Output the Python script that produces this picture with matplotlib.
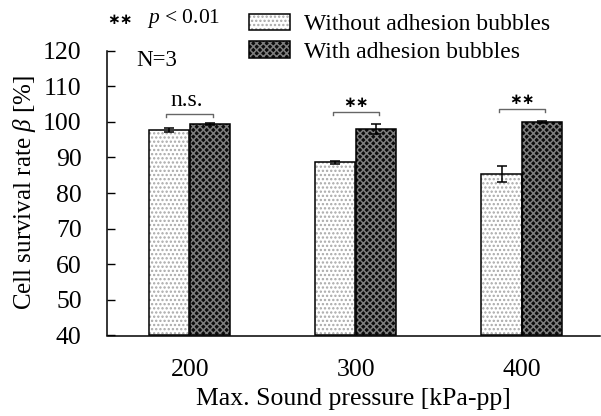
import matplotlib
matplotlib.use("Agg")
import matplotlib.pyplot as plt
import numpy as np
from matplotlib.patches import Patch
from matplotlib.legend_handler import HandlerTuple

plt.rcParams['font.family'] = ['Liberation Serif', 'DejaVu Serif']
plt.rcParams['mathtext.fontset'] = 'custom'
plt.rcParams['mathtext.it'] = 'Liberation Serif:italic'
plt.rcParams['mathtext.rm'] = 'Liberation Serif'
plt.rcParams['hatch.linewidth'] = 1.1

categories = ['200', '300', '400']
without_vals = [97.8, 88.6, 85.4]
without_err = [0.5, 0.5, 2.3]
with_vals = [99.3, 98.1, 100.0]
with_err = [0.3, 1.4, 0.2]
sig_labels = ['n.s.', '**', '**']
bracket_y = [102.2, 102.7, 103.6]
legend_labels = ['Without adhesion bubbles', 'With adhesion bubbles']

fig = plt.figure(figsize=(6.01, 4.16), dpi=100)
ax = fig.add_axes([106.7/601, 1-335.5/416, (600-106.7)/601, (335.5-50.7)/416])

x = np.arange(len(categories))
w = 0.241
off = 0.123

light_face = 'white'
light_hatch = '#a8a8a8'
light_hp = '....'
dark_face = '#0c0c0c'
dark_hatch = '#7e7e7e'
dark_hp = 'xxxxx'

# hatched fills
ax.bar(x - off, np.array(without_vals) - 40, w, bottom=40, color=light_face,
       edgecolor=light_hatch, hatch=light_hp, linewidth=0, zorder=2)
ax.bar(x + off, np.array(with_vals) - 40, w, bottom=40, color=dark_face,
       edgecolor=dark_hatch, hatch=dark_hp, linewidth=0, zorder=2)
# outlines
ax.bar(x - off, np.array(without_vals) - 40, w, bottom=40, fill=False,
       edgecolor='black', linewidth=1.1, zorder=3)
ax.bar(x + off, np.array(with_vals) - 40, w, bottom=40, fill=False,
       edgecolor='black', linewidth=1.1, zorder=3)
# error bars
ax.errorbar(x - off, without_vals, yerr=without_err, fmt='none', ecolor='black',
            elinewidth=1.1, capsize=3.5, capthick=1.1, zorder=4)
ax.errorbar(x + off, with_vals, yerr=with_err, fmt='none', ecolor='black',
            elinewidth=1.1, capsize=3.5, capthick=1.1, zorder=4)

# significance brackets
hw = 0.14
for xi, lab, by in zip(x, sig_labels, bracket_y):
    ax.plot([xi - hw, xi - hw, xi + hw, xi + hw], [by - 0.9, by, by, by - 0.9],
            color='#666666', lw=1.0, clip_on=False, zorder=5)
    if lab == 'n.s.':
        ax.text(xi - 0.02, by + 0.9, lab, ha='center', va='bottom', fontsize=17)
    else:
        ax.text(xi, by + 0.6, '∗∗', ha='center', va='bottom', fontsize=11,
                family=['DejaVu Sans'], fontweight='bold')

ax.set_xlim(-0.5, 2.47)
ax.set_ylim(40, 120)
ax.set_yticks(np.arange(40, 121, 10))
ax.set_xticks(x)
ax.set_xticklabels(categories)
ax.tick_params(axis='y', direction='in', length=6, width=1, pad=18, labelsize=18.5)
ax.tick_params(axis='x', length=0, pad=17, labelsize=18.5)
for s in ['top', 'right']:
    ax.spines[s].set_visible(False)
for s in ['left', 'bottom']:
    ax.spines[s].set_linewidth(1.1)

ax.set_ylabel(r'Cell survival rate $\it{\beta}$ [%]', fontsize=18)
ax.yaxis.set_label_coords(-0.14, 0.5)
ax.set_xlabel('Max. Sound pressure [kPa-pp]', fontsize=18.5, labelpad=5)

# annotations
fig.text(107/601, 1-19/416, '∗∗', fontsize=11, va='center', ha='left',
         family=['DejaVu Sans'], fontweight='bold')
fig.text(147/601, 1-19/416, r'$\it{p}$ < 0.01', fontsize=15.5, va='center', ha='left')
fig.text(136/601, 1-60/416, 'N=3', fontsize=16.5, va='center', ha='left')

# legend
h1 = (Patch(facecolor=light_face, edgecolor=light_hatch, hatch=light_hp, linewidth=0),
      Patch(fill=False, edgecolor='black', linewidth=1.1))
h2 = (Patch(facecolor=dark_face, edgecolor=dark_hatch, hatch=dark_hp, linewidth=0),
      Patch(fill=False, edgecolor='black', linewidth=1.1))
fig.legend([h1, h2], legend_labels, handler_map={tuple: HandlerTuple(ndivide=1)},
           loc='upper left', bbox_to_anchor=(249/601, 1-14/416), frameon=False,
           fontsize=17, handlelength=1.74, handleheight=0.68, handletextpad=0.6,
           labelspacing=0.25, borderaxespad=0, borderpad=0)

fig.savefig('out.png', dpi=100)
